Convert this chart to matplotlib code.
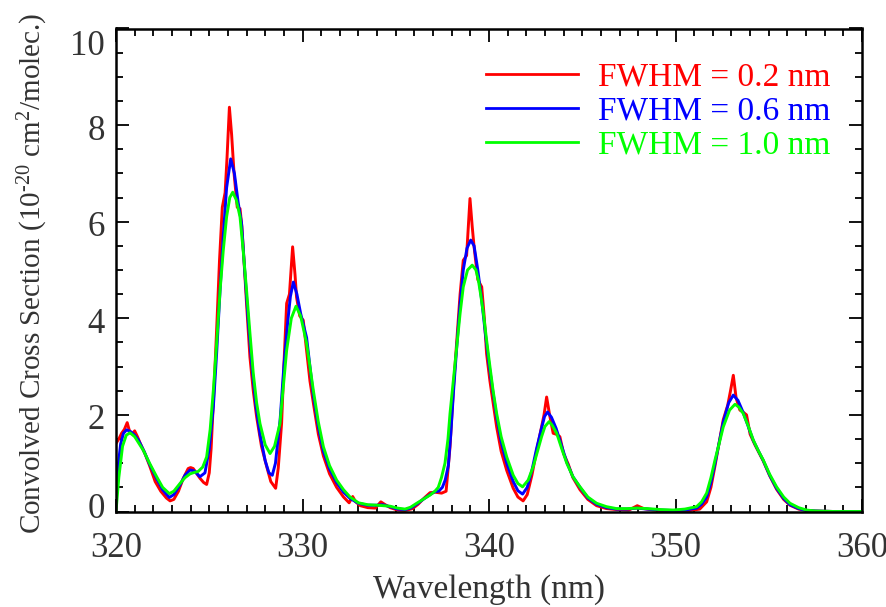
import matplotlib
matplotlib.use("Agg")
import matplotlib.pyplot as plt
import matplotlib.transforms as mtransforms
from matplotlib.ticker import MultipleLocator

plt.rcParams['font.family'] = ['Liberation Serif', 'DejaVu Serif']
plt.rcParams['mathtext.fontset'] = 'custom'
plt.rcParams['mathtext.rm'] = 'Liberation Serif'
plt.rcParams['mathtext.it'] = 'Liberation Serif:italic'

# ---- data ----
wl_02 = [320.0, 320.15, 320.3, 320.45, 320.6, 320.7, 320.78, 320.9, 321.0, 321.15, 321.29, 321.55, 321.8,
         322.1, 322.4, 322.7, 322.9, 323.1, 323.35, 323.6, 323.87, 324.0, 324.14, 324.3, 324.5, 324.7,
         324.86, 325.0, 325.1, 325.25, 325.4, 325.55, 325.7, 325.85, 325.95, 326.08, 326.2, 326.33, 326.5,
         326.65, 326.75, 326.83, 327.0, 327.18, 327.36, 327.54, 327.8, 328.08, 328.3, 328.56, 328.7,
         328.88, 329.0, 329.15, 329.3, 329.47, 329.6, 329.68, 329.85, 330.04, 330.2, 330.4, 330.6, 330.85,
         331.12, 331.45, 331.83, 332.2, 332.5, 332.69, 332.85, 333.1, 333.5, 333.9, 334.2, 334.4, 334.7,
         335.1, 335.5, 335.9, 336.2, 336.5, 336.84, 337.1, 337.46, 337.7, 337.91, 338.1, 338.3, 338.45,
         338.62, 338.8, 338.98, 339.1, 339.2, 339.4, 339.61, 339.75, 339.87, 340.05, 340.22, 340.41,
         340.65, 340.95, 341.3, 341.55, 341.83, 342.05, 342.3, 342.55, 342.82, 342.95, 343.09, 343.25,
         343.44, 343.6, 343.8, 344.0, 344.25, 344.5, 344.88, 345.3, 345.77, 346.3, 346.84, 347.5, 347.95,
         348.3, 348.8, 349.5, 350.2, 350.8, 351.3, 351.67, 351.9, 352.12, 352.35, 352.56, 352.8, 352.95,
         353.1, 353.25, 353.45, 353.65, 353.81, 354.0, 354.26, 354.5, 354.7, 355.05, 355.42, 355.8,
         356.14, 356.6, 357.03, 357.5, 358.5, 360.0]
xs_02 = [1.41, 1.5, 1.62, 1.7, 1.84, 1.7, 1.62, 1.62, 1.67, 1.55, 1.42, 1.2, 0.95,
         0.62, 0.42, 0.28, 0.22, 0.25, 0.42, 0.68, 0.89, 0.91, 0.89, 0.8, 0.69, 0.6,
         0.56, 0.8, 1.3, 2.5, 3.8, 5.2, 6.3, 6.6, 7.3, 8.37, 7.8, 7.0, 6.3,
         6.27, 5.9, 5.41, 4.3, 3.2, 2.5, 1.96, 1.35, 0.93, 0.62, 0.48, 0.9,
         1.83, 3.0, 4.31, 4.5, 5.48, 4.9, 4.44, 4.05, 3.96, 3.4, 2.7, 2.2, 1.6,
         1.15, 0.78, 0.5, 0.3, 0.18, 0.31, 0.2, 0.12, 0.08, 0.07, 0.2, 0.15, 0.08,
         0.03, 0.02, 0.06, 0.15, 0.27, 0.39, 0.4, 0.38, 0.42, 1.34, 2.6, 3.7, 4.5,
         5.2, 5.3, 6.48, 5.9, 5.48, 4.8, 4.65, 4.0, 3.27, 2.7, 2.25, 1.75,
         1.25, 0.85, 0.48, 0.3, 0.22, 0.35, 0.75, 1.25, 1.75, 2.0, 2.37, 2.0,
         1.62, 1.6, 1.55, 1.2, 0.98, 0.7, 0.45, 0.25, 0.12, 0.06, 0.04, 0.03, 0.12,
         0.06, 0.03, 0.01, 0.01, 0.02, 0.05, 0.2, 0.5, 0.95, 1.45, 1.9, 2.2, 2.5,
         2.82, 2.35, 2.1, 2.05, 2.0, 1.6, 1.38, 1.2, 1.05, 0.74, 0.46, 0.25,
         0.13, 0.05, 0.02, 0.01, 0.0, 0.0]

wl_06 = [320.0, 320.1, 320.25, 320.4, 320.57, 320.8, 321.0, 321.2, 321.5, 321.8, 322.18, 322.5, 322.86,
         323.1, 323.43, 323.7, 323.97, 324.2, 324.5, 324.77, 325.0, 325.22, 325.4, 325.58, 325.75, 325.93,
         326.15, 326.35, 326.55, 326.73, 326.9, 327.1, 327.3, 327.5, 327.72, 328.0, 328.2, 328.38, 328.55,
         328.8, 329.0, 329.2, 329.35, 329.51, 329.7, 329.9, 330.22, 330.4, 330.58, 330.85, 331.12, 331.45,
         331.83, 332.2, 332.55, 333.0, 333.5, 334.0, 334.3, 334.69, 335.1, 335.5, 335.8, 336.12, 336.5,
         336.84, 337.1, 337.3, 337.5, 337.65, 337.82, 337.95, 338.1, 338.27, 338.45, 338.62, 338.82,
         339.02, 339.2, 339.4, 339.6, 339.8, 340.0, 340.22, 340.41, 340.65, 340.95, 341.3, 341.55, 341.8,
         342.05, 342.3, 342.55, 342.8, 342.98, 343.14, 343.35, 343.6, 343.9, 344.17, 344.5, 344.88, 345.3,
         345.77, 346.3, 346.84, 347.4, 347.92, 348.5, 349.2, 349.88, 350.5, 351.13, 351.4, 351.67, 351.9,
         352.12, 352.35, 352.56, 352.85, 353.1, 353.35, 353.63, 353.9, 354.17, 354.45, 354.7, 355.05,
         355.42, 355.8, 356.14, 356.6, 357.03, 357.5, 358.5, 360.0]
xs_06 = [0.17, 0.9, 1.4, 1.62, 1.69, 1.65, 1.58, 1.48, 1.25, 0.98, 0.68, 0.45, 0.29,
         0.35, 0.55, 0.75, 0.86, 0.84, 0.72, 0.8, 1.3, 2.17, 3.3, 4.58, 5.7, 6.7,
         7.3, 7.0, 6.4, 5.97, 5.0, 3.9, 2.95, 2.2, 1.6, 1.05, 0.8, 0.75, 1.0,
         1.9, 3.0, 3.9, 4.45, 4.75, 4.5, 4.1, 3.6, 3.0, 2.4, 1.75, 1.25, 0.88,
         0.6, 0.4, 0.27, 0.17, 0.13, 0.13, 0.14, 0.10, 0.05, 0.04, 0.07, 0.15, 0.26,
         0.35, 0.41, 0.42, 0.5, 0.65, 0.95, 1.6, 2.5, 3.4, 4.3, 5.0, 5.45,
         5.62, 5.5, 5.0, 4.4, 3.7, 3.05, 2.45, 1.95, 1.45, 1.0, 0.62, 0.43, 0.36,
         0.5, 0.85, 1.3, 1.7, 1.97, 2.06, 1.95, 1.72, 1.35, 1.02, 0.72, 0.5, 0.28,
         0.15, 0.08, 0.05, 0.05, 0.07, 0.05, 0.03, 0.02, 0.03, 0.07, 0.15, 0.3, 0.6,
         1.0, 1.45, 1.85, 2.25, 2.41, 2.3, 2.05, 1.76, 1.47, 1.25, 1.06, 0.75,
         0.48, 0.27, 0.14, 0.06, 0.02, 0.01, 0.0, 0.0]

wl_10 = [320.0, 320.15, 320.35, 320.55, 320.75, 321.0, 321.46, 321.8, 322.18, 322.5, 322.86, 323.1, 323.43,
         323.7, 323.97, 324.2, 324.41, 324.65, 324.86, 325.05, 325.22, 325.4, 325.58, 325.75, 325.93, 326.1,
         326.26, 326.45, 326.65, 326.82, 327.0, 327.18, 327.36, 327.54, 327.72, 328.0, 328.26, 328.5,
         328.79, 328.95, 329.15, 329.4, 329.65, 329.9, 330.22, 330.4, 330.58, 330.85, 331.12, 331.45,
         331.83, 332.2, 332.55, 333.0, 333.5, 334.0, 334.69, 335.1, 335.5, 335.8, 336.12, 336.5, 336.84,
         337.1, 337.28, 337.45, 337.64, 337.8, 337.91, 338.1, 338.27, 338.45, 338.62, 338.85, 339.1,
         339.3, 339.43, 339.55, 339.7, 339.87, 340.05, 340.22, 340.41, 340.65, 340.95, 341.3, 341.55,
         341.8, 342.1, 342.37, 342.6, 342.82, 343.0, 343.22, 343.4, 343.63, 343.9, 344.17, 344.5, 344.88,
         345.3, 345.77, 346.3, 346.84, 347.4, 347.92, 348.5, 349.2, 349.88, 350.5, 351.13, 351.4, 351.67,
         351.9, 352.12, 352.35, 352.56, 352.9, 353.19, 353.4, 353.63, 353.9, 354.17, 354.45, 354.7, 355.05,
         355.42, 355.8, 356.14, 356.6, 357.03, 357.5, 358.5, 360.0]
xs_10 = [0.0, 0.7, 1.35, 1.58, 1.63, 1.55, 1.27, 1.0, 0.72, 0.5, 0.37, 0.42, 0.58,
         0.70, 0.78, 0.81, 0.83, 0.92, 1.13, 1.7, 2.51, 3.5, 4.58, 5.4, 6.1, 6.5,
         6.61, 6.45, 6.1, 5.4, 4.58, 3.7, 2.86, 2.25, 1.82, 1.38, 1.2, 1.35,
         1.82, 2.5, 3.34, 4.0, 4.25, 4.05, 3.48, 3.0, 2.51, 1.85, 1.34, 0.95,
         0.65, 0.45, 0.3, 0.18, 0.14, 0.13, 0.11, 0.07, 0.05, 0.09, 0.17, 0.26, 0.34,
         0.42, 0.5, 0.7, 1.0, 1.5, 2.03, 2.75, 3.41, 4.1, 4.65, 5.0, 5.1,
         5.0, 4.79, 4.5, 4.1, 3.55, 3.0, 2.5, 2.03, 1.55, 1.13, 0.75, 0.58,
         0.51, 0.65, 0.93, 1.25, 1.55, 1.76, 1.86, 1.78, 1.62, 1.3, 1.0, 0.72, 0.51,
         0.3, 0.17, 0.1, 0.06, 0.06, 0.07, 0.06, 0.04, 0.03, 0.05, 0.1, 0.2, 0.38,
         0.7, 1.07, 1.42, 1.75, 2.1, 2.22, 2.16, 2.03, 1.77, 1.48, 1.25, 1.07, 0.77,
         0.51, 0.3, 0.17, 0.08, 0.03, 0.01, 0.0, 0.0]

labels = ['FWHM = 0.2 nm', 'FWHM = 0.6 nm', 'FWHM = 1.0 nm']
colors = ['#ff0000', '#0000ff', '#00ff00']
x_ticks = [320, 330, 340, 350, 360]
y_ticks = [0, 2, 4, 6, 8, 10]

# ---- figure ----
W, H = 887, 607
fig = plt.figure(figsize=(W / 100, H / 100), dpi=100)
ax = fig.add_axes([116 / W, 1 - 511.5 / H, (862 - 116) / W, (511.5 - 28.5) / H])

series = [(wl_02, xs_02), (wl_06, xs_06), (wl_10, xs_10)]
for (wx, wy), lab, c in zip(series, labels, colors):
    ax.plot(wx, wy, color=c, lw=2.1, label=lab, solid_joinstyle='round', clip_on=True)

ax.set_xlim(320, 360)
ax.set_ylim(0, 10)
ax.set_xticks(x_ticks)
ax.set_yticks(y_ticks)
ax.xaxis.set_minor_locator(MultipleLocator(1))
ax.yaxis.set_minor_locator(MultipleLocator(0.5))

text_col = '#333333'
ax.tick_params(which='both', direction='in', top=True, right=True, colors='black',
               labelcolor=text_col, labelsize=25)
ax.tick_params(which='major', length=9.5, width=1.3)
ax.tick_params(which='minor', length=5, width=1.3)
ax.tick_params(axis='x', which='major', pad=15)
ax.tick_params(axis='y', which='major', pad=8)
for sp in ax.spines.values():
    sp.set_linewidth(1.8)

# IDL-like inward nudge of the end labels on the y axis
fig.canvas.draw()
ylabels = ax.get_yticklabels()
for lab_obj, v in zip(ylabels, y_ticks):
    if v == 0:
        dy = 6
    elif v == 10:
        dy = -14
    else:
        dy = -2
    lab_obj.set_transform(lab_obj.get_transform() +
                          mtransforms.ScaledTranslation(0, dy / 100, fig.dpi_scale_trans))

ax.set_xlabel('Wavelength (nm)', fontsize=24, color=text_col)
ax.xaxis.set_label_coords(0.5, -0.13)
ax.set_ylabel(r'Convolved Cross Section (10$^{\mathrm{\text{-}20}}$ cm$^{2}$/molec.)',
              fontsize=21, color=text_col)
ax.yaxis.set_label_coords(-0.088, 0.494)

leg = ax.legend(loc='upper left', bbox_to_anchor=(486 / W, 1 - 62 / H),
                bbox_transform=fig.transFigure, frameon=False, fontsize=24,
                handlelength=2.75, handletextpad=0.6, labelspacing=0.1,
                borderpad=0, borderaxespad=0, labelcolor='linecolor')
for ln in leg.get_lines():
    ln.set_linewidth(2.0)

fig.savefig('out.png', dpi=100)
